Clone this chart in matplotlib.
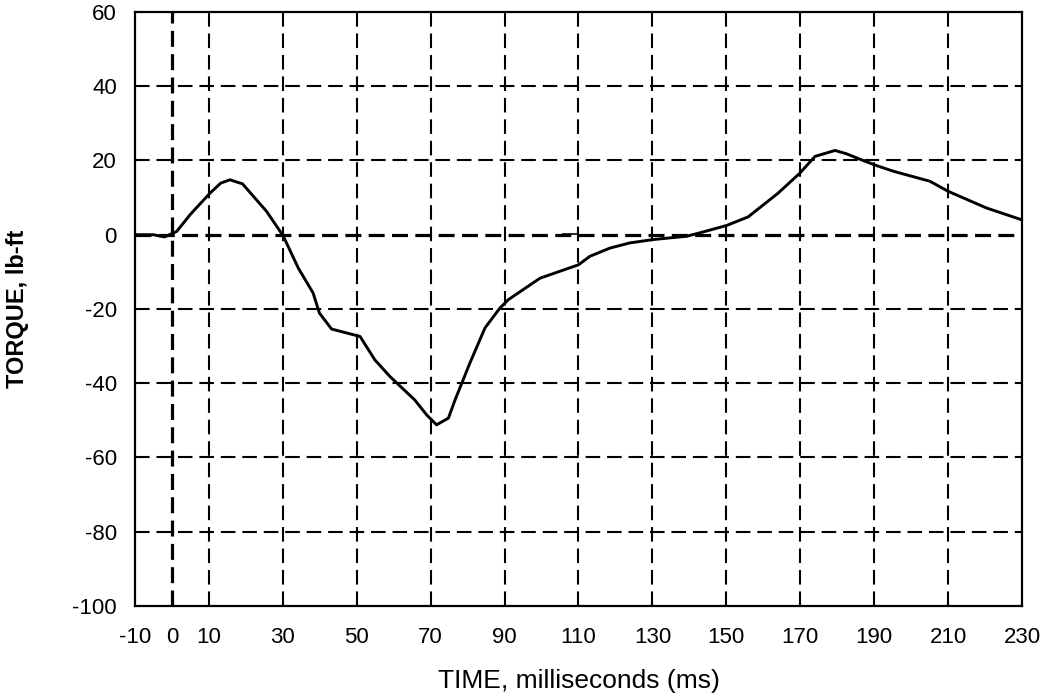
import matplotlib
matplotlib.use("Agg")
import matplotlib.pyplot as plt

plt.rcParams["font.family"] = ["Liberation Sans", "DejaVu Sans"]
plt.rcParams["axes.unicode_minus"] = False

# ---- data ----
time_ms = [-10, -5, -2, 1.3, 5, 10.3, 13.2, 15.7, 19.1, 25.6, 30.1, 34.2, 38.2,
           39.9, 43.2, 50.9, 54.9, 59, 65.7, 68.9, 71.6, 74.8, 76.6, 80.6, 84.7,
           88.7, 91, 99.6, 110, 113.1, 118.5, 123.9, 130.2, 139.3, 142.8, 150.1,
           155.9, 164, 169.9, 174, 179.4, 182.5, 187, 190.7, 195.2, 205.1, 210,
           220.4, 230]
torque = [0, 0, -0.6, 0.9, 5.5, 11.2, 13.9, 14.8, 13.7, 6.3, -0.3, -9, -15.7,
          -21.1, -25.4, -27.4, -33.7, -38.2, -44.5, -48.5, -51.2, -49.4, -44.5,
          -34.6, -25.1, -19.8, -17.5, -11.7, -8.1, -5.8, -3.6, -2.2, -1.3, -0.4,
          0.5, 2.5, 4.8, 11.2, 16.6, 21.1, 22.7, 21.8, 20, 18.6, 17.1, 14.4, 11.7,
          7.2, 4]

# short second trace lying on the zero line
base_t = [105.8, 110]
base_v = [0.3, 0.3]

x_ticks = [-10, 0, 10, 30, 50, 70, 90, 110, 130, 150, 170, 190, 210, 230]
y_ticks = [-100, -80, -60, -40, -20, 0, 20, 40, 60]

fig = plt.figure(figsize=(10.52, 6.96), dpi=100)
ax = fig.add_axes([0.1283, 0.1293, 0.8432, 0.8535])

# grid lines (dashed), zero lines heavier
for t in x_ticks[2:-1]:
    ax.axvline(t, color="black", lw=1.5, linestyle=(0, (7, 3.3)), zorder=1)
for v in y_ticks[1:-1]:
    if v != 0:
        ax.axhline(v, color="black", lw=1.5, linestyle=(0, (7, 3.3)), zorder=1)
ax.axvline(0, color="black", lw=2.3, linestyle=(0, (5, 2.3)), zorder=1)
ax.axhline(0, color="black", lw=2.3, linestyle=(0, (5, 2.3)), zorder=1)

ax.plot(time_ms, torque, color="black", lw=2.1, zorder=3)
ax.plot(base_t, base_v, color="black", lw=1.2, zorder=3)

ax.set_xlim(-10, 230)
ax.set_ylim(-100, 60)
ax.set_xticks(x_ticks)
ax.set_yticks(y_ticks)
ax.tick_params(direction="in", length=4, width=1.2, labelsize=16)
ax.tick_params(axis="x", pad=15)
ax.tick_params(axis="y", pad=13)
for s in ax.spines.values():
    s.set_linewidth(1.6)

ax.set_xlabel("TIME, milliseconds (ms)", fontsize=19, labelpad=15)
ax.set_ylabel("TORQUE, lb-ft", fontsize=17, fontweight="bold", labelpad=31)

fig.savefig("out.png", dpi=100)
plt.close(fig)
